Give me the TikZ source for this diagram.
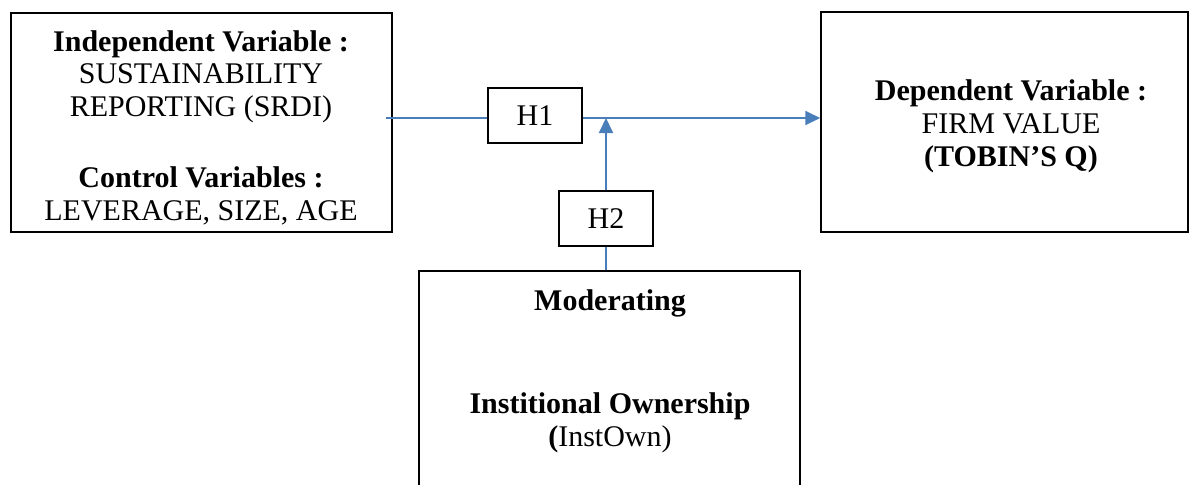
\documentclass[tikz,border=0pt]{standalone}
\usepackage{fontspec}
\setmainfont{Liberation Serif}
\usetikzlibrary{arrows.meta,calc}
\definecolor{linkblue}{HTML}{4A7EBB}
\begin{document}
\begin{tikzpicture}[x=0.5pt,y=-0.5pt,
  box/.style={draw=black, line width=0.75pt, inner sep=0pt},
  txt/.style={align=center, inner sep=0pt, font=\fontsize{15}{16.5}\selectfont},
  link/.style={draw=linkblue, line width=1pt},
  tip/.style={-{Triangle[length=7.5pt,width=7pt]}}]
% page area; the moderator box runs off the bottom edge
\clip (0,0) rectangle (1189,484);

% variable boxes
\node[box, minimum width=190.5pt, minimum height=109.5pt] (ind) at (201.5,122.5) {};
\node[txt, anchor=north] (indtext) at (201,30.5)
  {\textbf{Independent Variable :}\\[-0.5pt]
   SUSTAINABILITY\\
   REPORTING (SRDI)\\[19pt]
   \textbf{Control Variables :}\\
   LEVERAGE, SIZE, AGE};

\node[box, minimum width=183.5pt, minimum height=110pt] (dep) at (1004.5,122) {};
\node[txt, anchor=north] (deptext) at (1011,79.5)
  {\textbf{Dependent Variable :}\\
   FIRM VALUE\\
   \textbf{(TOBIN’S Q)}};

\node[box, minimum width=190.5pt, minimum height=134.5pt] (mod) at (609.5,405.5) {};
\node[txt, anchor=north] (modtext) at (610,289.5)
  {\textbf{Moderating}\\[35pt]
   \textbf{Institional Ownership}\\
   \textbf{(}InstOwn)};

% hypothesis labels
\node[box, txt, minimum width=47pt, minimum height=27.5pt] (h1) at (535,115.5) {H1};
\node[box, txt, minimum width=47pt, minimum height=27.5pt] (h2) at (606,218.5) {H2};

% connectors
\coordinate (axis) at (0,118);
\draw[link] ($(ind.east |- axis)+(-7,0)$) -- (h1.west |- axis);
\draw[link, tip] (h1.east |- axis) -- (dep.west |- axis);
\draw[link, tip] (h2.north) -- (h2.north |- axis);
\draw[link] (h2.south |- mod.north) -- (h2.south);
\end{tikzpicture}
\end{document}
